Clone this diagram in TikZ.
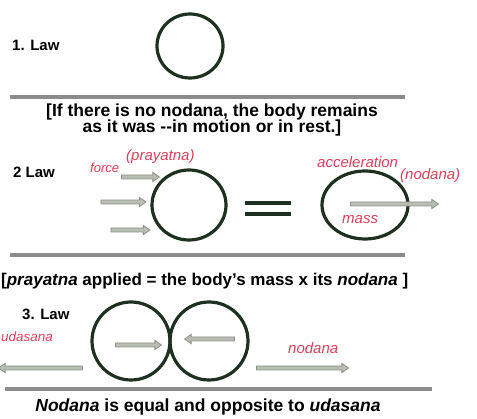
\documentclass[tikz,border=0pt]{standalone}
\usepackage{fontspec}
\setmainfont{Liberation Sans}
\usetikzlibrary{arrows.meta,shapes.arrows}
\definecolor{ringc}{HTML}{1E3120}
\definecolor{rulec}{HTML}{8C8C8C}
\definecolor{redlab}{HTML}{DC4058}
\definecolor{arrfill}{HTML}{B9BDB4}
\definecolor{arrdraw}{HTML}{8E938A}
\tikzset{
  ring/.style={draw=ringc, line width=3.2pt},
  rulebar/.style={draw=rulec, line width=3.2pt},
  garr/.style={single arrow, fill=arrfill, draw=arrdraw, line width=0.8pt,
    inner sep=1.6pt, single arrow head extend=2.6pt, single arrow tip angle=70,
    anchor=center},
  lawtxt/.style={font=\fontsize{15}{17}\selectfont\bfseries, anchor=west, inner sep=0pt},
  bodytxt/.style={font=\fontsize{17.5}{20}\selectfont\bfseries, inner sep=0pt},
  redtxt/.style={font=\fontsize{15}{17}\selectfont\itshape, text=redlab, inner sep=0pt},
}
\begin{document}
\begin{tikzpicture}[x=1pt,y=-1pt]
\useasboundingbox (0,0) rectangle (477,419);
% ---------- Law 1
\node[lawtxt] (l1) at (12,45) {1. Law};
\draw[ring] (190,46) ellipse (33 and 32);
\coordinate (r1a) at (10,97); \coordinate (r1b) at (405,97);
\draw[rulebar] (r1a) -- (r1b);
\node[bodytxt] (t1a) at (212,112) {[If there is no nodana, the body remains};
\node[bodytxt] (t1b) at (212,128) {as it was -{}-in motion or in rest.]};
% ---------- Law 2
\node[lawtxt] (l2) at (13,172) {2 Law};
\draw[ring] (189,205) ellipse (37 and 35);
\node[garr, minimum height=38pt] (a1) at (139,177) {};
\node[garr, minimum height=45pt] (a2) at (122,202) {};
\node[garr, minimum height=39pt] (a3) at (129,230) {};
\node[redtxt, anchor=west, font=\fontsize{13}{15}\selectfont\itshape] (force) at (90,168) {force};
\node[redtxt, anchor=west] (pray) at (126,157) {(prayatna)};
\draw[draw=ringc, line width=3.6pt] (245,203) -- (291,203);
\draw[draw=ringc, line width=3.6pt] (245,214) -- (291,214);
\draw[ring] (365,205) ellipse (43 and 34);
\node[garr, minimum height=88pt] (a4) at (393,204) {};
\node[redtxt, anchor=west] (acc) at (317,162) {acceleration};
\node[redtxt, anchor=west] (nod) at (400,176) {(nodana)};
\node[redtxt, anchor=west] (mass) at (342,220) {mass};
\coordinate (r2a) at (10,255); \coordinate (r2b) at (405,255);
\draw[rulebar] (r2a) -- (r2b);
\node[bodytxt, anchor=west, font=\fontsize{17}{20}\selectfont\bfseries] (t2) at (1,281) {[\textit{prayatna} applied = the body's mass x its \textit{nodana} ]};
% ---------- Law 3
\node[lawtxt] (l3) at (22,314) {3. Law};
\node[redtxt, anchor=west, font=\fontsize{13.5}{15}\selectfont\itshape] (uda) at (1,337) {udasana};
\draw[ring] (131,341) circle (39);
\draw[ring] (209,341) circle (39);
\node[garr, minimum height=46pt] (a5) at (137,345) {};
\node[garr, minimum height=50pt, shape border rotate=180] (a6) at (211,339) {};
\node[garr, minimum height=84pt, shape border rotate=180] (a7) at (42,368) {};
\node[garr, minimum height=92pt] (a8) at (301,368) {};
\node[redtxt, anchor=west] (nod3) at (288,348) {nodana};
\coordinate (r3a) at (5,389); \coordinate (r3b) at (432,389);
\draw[rulebar] (r3a) -- (r3b);
\node[bodytxt] (t3) at (208,407) {\textit{Nodana} is equal and opposite to \textit{udasana}};
\end{tikzpicture}
\end{document}
